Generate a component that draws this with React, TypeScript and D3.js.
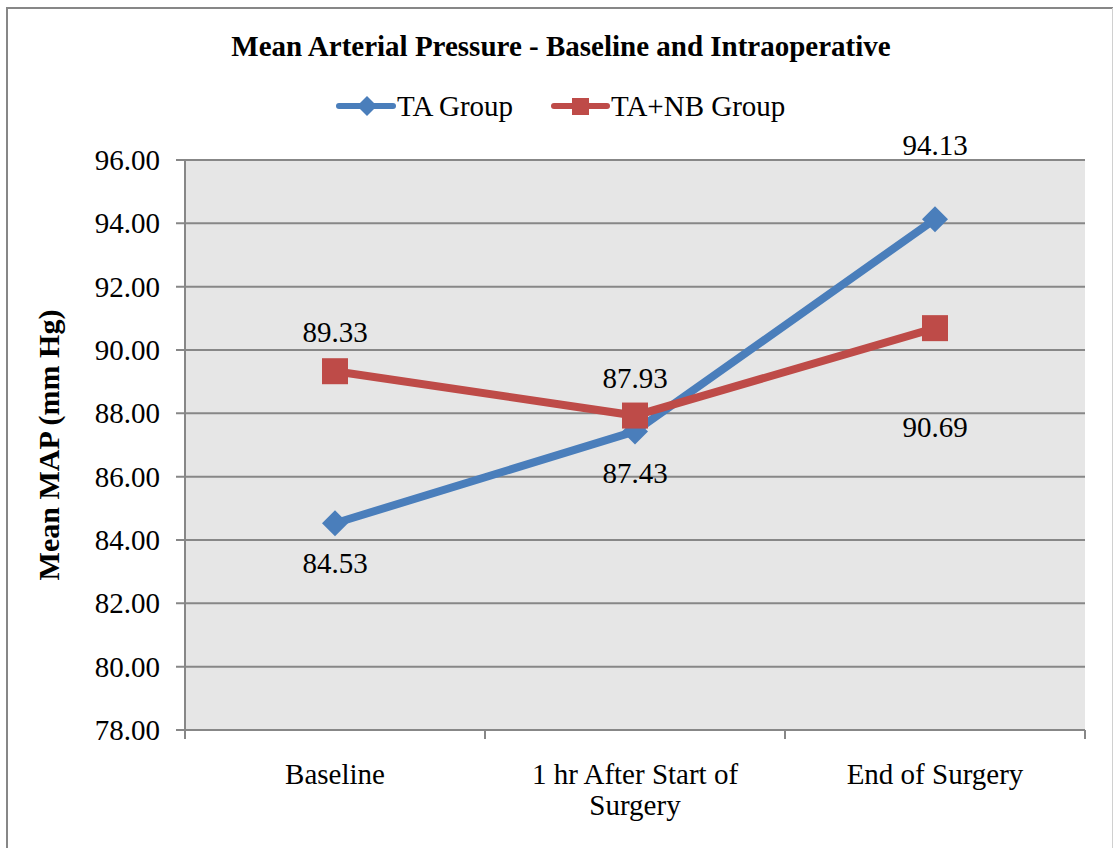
import React from "react";
import * as d3 from "d3";

const categories = ["Baseline", "1 hr After Start of|Surgery", "End of Surgery"];
const taGroup = [84.53, 87.43, 94.13];
const taNbGroup = [89.33, 87.93, 90.69];
const yTicks = [78, 80, 82, 84, 86, 88, 90, 92, 94, 96];
const seriesNames = ["TA Group", "TA+NB Group"];
// label baseline offsets relative to point
const taLabelOffset = [50, 52, -64];
const nbLabelOffset = [-29, -28, 109];

const W = 1114, H = 848;
const left = 185, right = 1085, top = 160, bottom = 730;
const BLUE = "#4a7ebb";
const RED = "#be4b48";
const GRID = "#878787";
const FONT = "'Liberation Serif', 'Times New Roman', serif";
const FS = 29;

export default function App() {
  const x = d3.scaleBand<number>().domain([0, 1, 2]).range([left, right]).padding(0);
  const y = d3.scaleLinear().domain([78, 96]).range([bottom, top]);
  const cx = (i: number) => (x(i) as number) + x.bandwidth() / 2;
  const line = d3.line<number>().x((_, i) => cx(i)).y((d) => y(d));

  const diamond = (px: number, py: number, r: number) =>
    `M${px},${py - r}L${px + r},${py}L${px},${py + r}L${px - r},${py}Z`;

  return (
    <svg width={W} height={H} style={{ position: "absolute", left: 0, top: 0 }}>
      <rect x={0} y={0} width={W} height={H} fill="#fff" />
      <line x1={7} x2={1113} y1={8} y2={8} stroke={GRID} strokeWidth={2} />
      <line x1={7} x2={7} y1={7} y2={H} stroke={GRID} strokeWidth={2} />
      <line x1={1112.5} x2={1112.5} y1={8} y2={H} stroke="#d0d0d0" strokeWidth={1} />
      <text x={561} y={56} textAnchor="middle" fontFamily={FONT} fontWeight="bold" fontSize={29}>
        Mean Arterial Pressure - Baseline and Intraoperative
      </text>
      {/* legend */}
      <g>
        <line x1={339} x2={393} y1={106} y2={106} stroke={BLUE} strokeWidth={6} strokeLinecap="round" />
        <path d={diamond(367, 106, 10)} fill={BLUE} />
        <text x={397} y={116} fontFamily={FONT} fontSize={FS}>{seriesNames[0]}</text>
        <line x1={554} x2={607} y1={106} y2={106} stroke={RED} strokeWidth={6} strokeLinecap="round" />
        <rect x={572} y={98} width={17} height={17} fill={RED} />
        <text x={611} y={116} fontFamily={FONT} fontSize={FS}>{seriesNames[1]}</text>
      </g>
      <rect x={left} y={top} width={right - left} height={bottom - top} fill="#e6e6e6" />
      {yTicks.map((t) => (
        <g key={t}>
          <line x1={left - 9} x2={right} y1={y(t)} y2={y(t)} stroke={GRID} strokeWidth={2} />
          <text x={160} y={y(t) + 10} textAnchor="end" fontFamily={FONT} fontSize={FS}>
            {t.toFixed(2)}
          </text>
        </g>
      ))}
      <line x1={left} x2={left} y1={top} y2={bottom + 9} stroke={GRID} strokeWidth={2} />
      {[0, 1, 2, 3].map((i) => {
        const px = left + i * x.bandwidth();
        return <line key={i} x1={px} x2={px} y1={bottom} y2={bottom + 9} stroke={GRID} strokeWidth={2} />;
      })}
      {categories.map((c, i) => {
        const parts = c.split("|");
        return (
          <text key={i} x={cx(i)} y={784} textAnchor="middle" fontFamily={FONT} fontSize={FS}>
            {parts.map((p, j) => (
              <tspan key={j} x={cx(i)} dy={j === 0 ? 0 : 31}>{p}</tspan>
            ))}
          </text>
        );
      })}
      <text
        transform={`translate(59, ${(top + bottom) / 2}) rotate(-90)`}
        textAnchor="middle"
        fontFamily={FONT}
        fontWeight="bold"
        fontSize={30}
      >
        Mean MAP (mm Hg)
      </text>
      {/* series */}
      <path d={line(taGroup) || ""} fill="none" stroke={BLUE} strokeWidth={8} />
      {taGroup.map((v, i) => (
        <path key={i} d={diamond(cx(i), y(v), 13)} fill={BLUE} />
      ))}
      <path d={line(taNbGroup) || ""} fill="none" stroke={RED} strokeWidth={8} />
      {taNbGroup.map((v, i) => (
        <rect key={i} x={cx(i) - 13} y={y(v) - 13} width={26} height={26} fill={RED} />
      ))}
      {taGroup.map((v, i) => (
        <text key={i} x={cx(i)} y={y(v) + taLabelOffset[i]} textAnchor="middle" fontFamily={FONT} fontSize={FS}>
          {v.toFixed(2)}
        </text>
      ))}
      {taNbGroup.map((v, i) => (
        <text key={i} x={cx(i)} y={y(v) + nbLabelOffset[i]} textAnchor="middle" fontFamily={FONT} fontSize={FS}>
          {v.toFixed(2)}
        </text>
      ))}
    </svg>
  );
}
